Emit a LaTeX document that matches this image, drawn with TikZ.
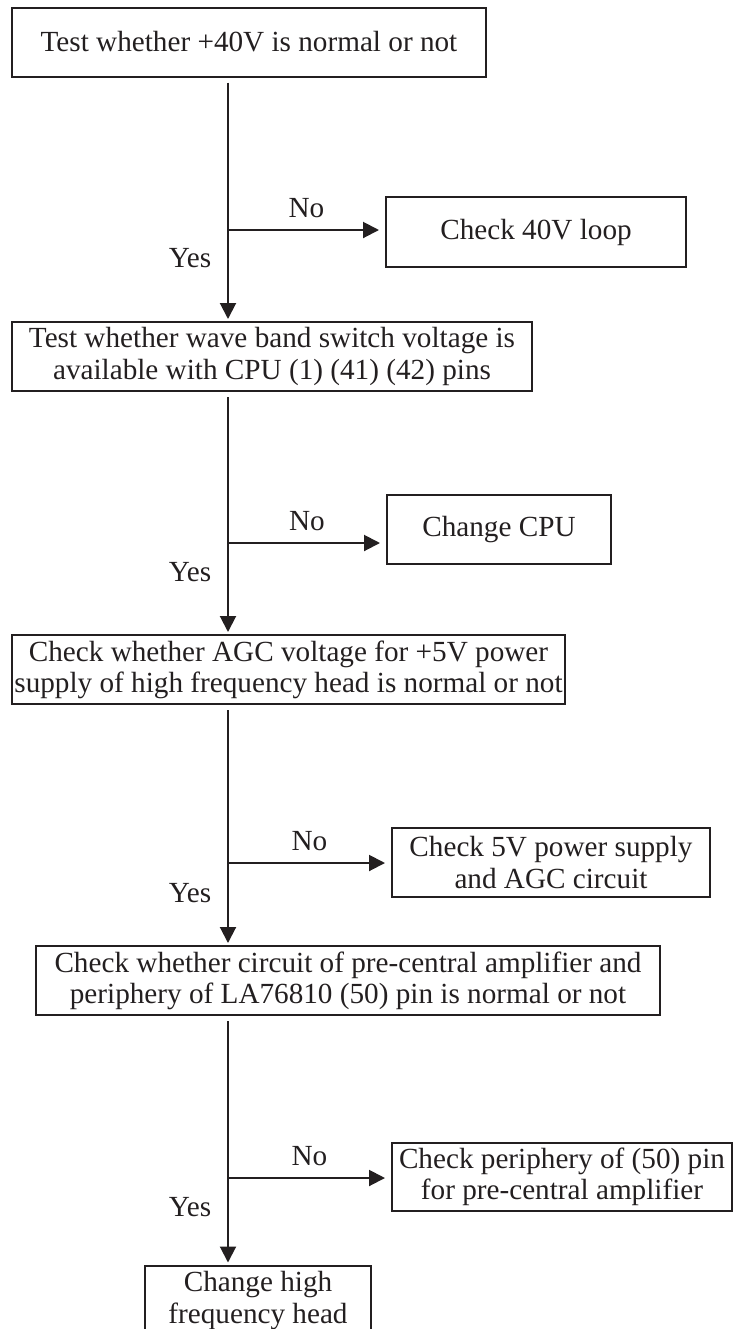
\documentclass[tikz,border=0pt]{standalone}
\usepackage{fontspec}
\setmainfont{Liberation Serif}
\usetikzlibrary{arrows.meta,positioning,calc}
\definecolor{inkdark}{HTML}{231F20}
\newcommand{\flowfont}{\fontsize{14.6}{15.6}\selectfont}
\tikzset{
  testbox/.style={draw=inkdark, line width=1pt, align=center, inner sep=1pt, minimum height=34.5pt, font=\flowfont, text=inkdark},
  arr/.style={-{Triangle[length=8pt,width=8pt]}, line width=1pt, draw=inkdark, shorten <=2.5pt, shorten >=1pt},
  side/.style={arr, shorten <=0pt, shorten >=3pt},
  lbl/.style={font=\flowfont, inner sep=0pt, text=inkdark}
}
\begin{document}
\begin{tikzpicture}[x=0.5pt, y=-0.5pt]
  \useasboundingbox (0,0) rectangle (733,1329);
  % main chain
  \node[testbox, minimum width=237pt] (t1) at (249,42) {Test whether +40V is normal or not};
  \node[testbox, minimum width=260pt] (t2) at (272,356.5) {Test whether wave band switch voltage is\\available with CPU (1) (41) (42) pins};
  \node[testbox, minimum width=276.5pt] (t3) at (288.5,669.5) {Check whether AGC voltage for +5V power\\supply of high frequency head is normal or not};
  \node[testbox, minimum width=312pt] (t4) at (348,980.5) {Check whether circuit of pre-central amplifier and\\periphery of LA76810 (50) pin is normal or not};
  \node[testbox, minimum width=113pt, minimum height=35pt] (t5) at (258,1300.5) {Change high\\frequency head};
  % side checks
  \node[testbox, minimum width=150pt, minimum height=35pt] (c1) at (536,232) {Check 40V loop};
  \node[testbox, minimum width=112pt] (c2) at (499,529.5) {Change CPU};
  \node[testbox, minimum width=159pt] (c3) at (551,862.5) {Check 5V power supply\\and AGC circuit};
  \node[testbox, minimum width=170pt, minimum height=34pt] (c4) at (562,1177) {Check periphery of (50) pin\\for pre-central amplifier};
  % branch points
  \coordinate (b1) at (228,230);
  \coordinate (b2) at (228,543);
  \coordinate (b3) at (228,863);
  \coordinate (b4) at (228,1178);
  \draw[arr] (t1.south -| b1) -- (t2.north -| b1);
  \draw[arr] (t2.south -| b2) -- (t3.north -| b2);
  \draw[arr] (t3.south -| b3) -- (t4.north -| b3);
  \draw[arr] (t4.south -| b4) -- (t5.north -| b4);
  \draw[side] (b1) -- node[lbl, above=5.5pt] {No} (b1 -| c1.west);
  \draw[side] (b2) -- node[lbl, above=5.5pt] {No} (b2 -| c2.west);
  \draw[side] (b3) -- node[lbl, above=5.5pt] {No} (b3 -| c3.west);
  \draw[side] (b4) -- node[lbl, above=5.5pt] {No} (b4 -| c4.west);
  \node[lbl] (y1) at ($(b1)+(-38,28)$) {Yes};
  \node[lbl] (y2) at ($(b2)+(-38,29)$) {Yes};
  \node[lbl] (y3) at ($(b3)+(-38,30)$) {Yes};
  \node[lbl] (y4) at ($(b4)+(-38,29)$) {Yes};
\end{tikzpicture}
\end{document}
